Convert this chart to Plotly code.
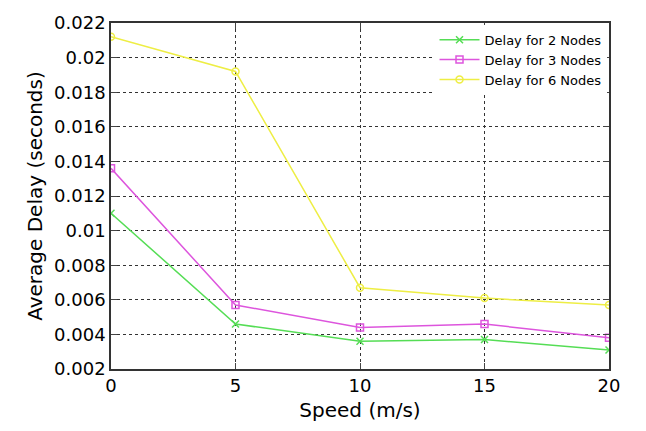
import plotly.graph_objects as go

speed = [0, 5, 10, 15, 20]
delay_2 = [0.0110, 0.0046, 0.0036, 0.0037, 0.0031]
delay_3 = [0.0136, 0.0057, 0.0044, 0.0046, 0.0038]
delay_6 = [0.0212, 0.0192, 0.0067, 0.0061, 0.0057]
names = ["Delay for 2 Nodes", "Delay for 3 Nodes", "Delay for 6 Nodes"]
colors = ["#55dd55", "#dd55dd", "#eeee44"]
symbols = ["x-thin-open", "square-open", "circle-open"]
y_ticks = [0.002, 0.004, 0.006, 0.008, 0.01, 0.012, 0.014, 0.016, 0.018, 0.02, 0.022]
y_labels = ["0.002", "0.004", "0.006", "0.008", "0.01", "0.012", "0.014", "0.016", "0.018", "0.02", "0.022"]

fig = go.Figure()
for ys, n, c, s in zip([delay_2, delay_3, delay_6], names, colors, symbols):
    fig.add_trace(go.Scatter(x=speed, y=ys, name=n, mode="lines+markers",
                             line=dict(color=c, width=1.5),
                             marker=dict(symbol=s, size=7, color=c, line=dict(color=c, width=1.5))))

font = "DejaVu Sans, sans-serif"
fig.update_layout(
    width=646, height=431,
    margin=dict(l=111, r=37, t=17, b=62),
    paper_bgcolor="white", plot_bgcolor="white",
    font=dict(family=font, size=18, color="black"),
    showlegend=True,
    legend=dict(x=0.995, y=0.995, xanchor="right", yanchor="top",
                bgcolor="white", font=dict(size=13),
                tracegroupgap=0, itemwidth=40),
    xaxis=dict(range=[0, 20], tickvals=speed, ticks="inside", ticklen=6,
               showline=True, linecolor="#333", linewidth=1.5, mirror="ticks",
               showgrid=True, gridcolor="#333", griddash="dot", gridwidth=1,
               zeroline=False,
               title=dict(text="Speed (m/s)", font=dict(size=20), standoff=8)),
    yaxis=dict(range=[0.002, 0.022], tickvals=y_ticks, ticktext=y_labels,
               ticks="inside", ticklen=6,
               showline=True, linecolor="#333", linewidth=1.5, mirror="ticks",
               showgrid=True, gridcolor="#333", griddash="dot", gridwidth=1,
               zeroline=False,
               title=dict(text="Average Delay (seconds)", font=dict(size=20), standoff=6)),
)
fig.write_html("out.html")
